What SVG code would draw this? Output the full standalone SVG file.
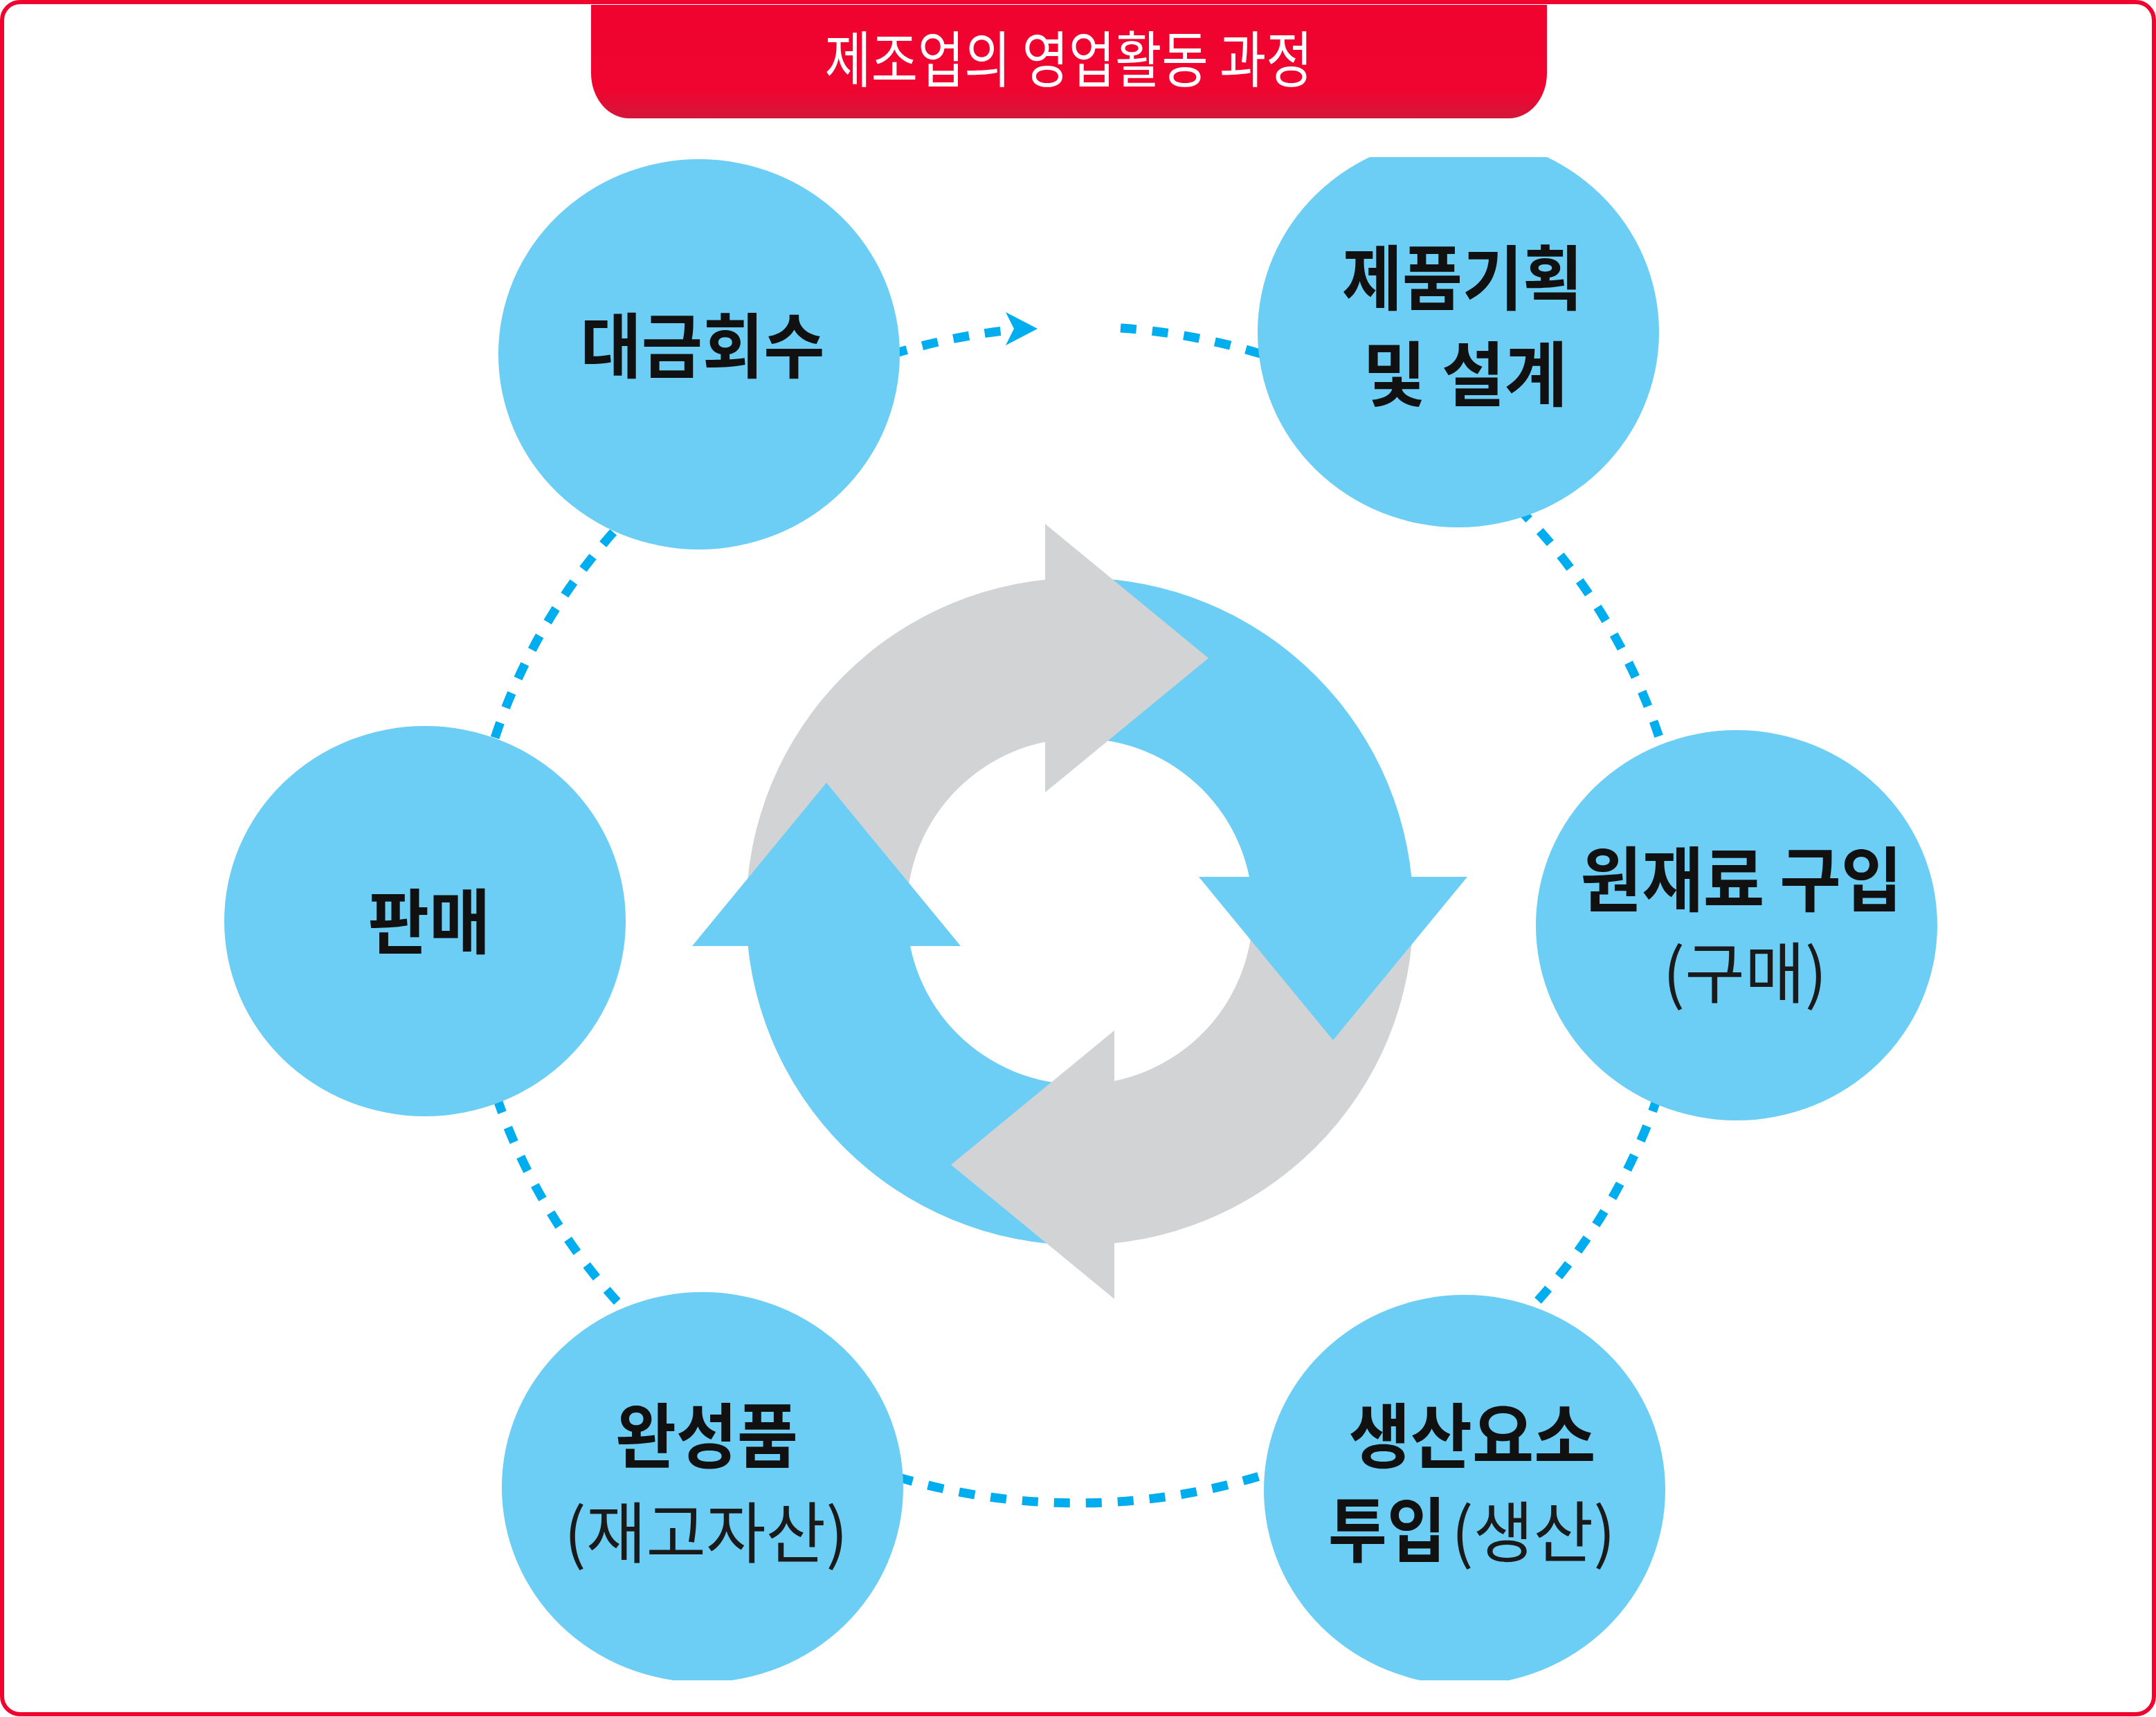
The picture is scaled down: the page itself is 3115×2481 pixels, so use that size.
<svg xmlns="http://www.w3.org/2000/svg" width="3115" height="2481" viewBox="0 0 3115 2481">
  <style>
    .node { fill: #6DCEF5; }
    .lbl { font-family: "Noto Sans CJK KR", "Noto Sans", sans-serif; font-weight: 700; font-size: 102px; fill: #111111; text-anchor: middle; }
    .sub { font-family: "Noto Sans CJK KR", "Noto Sans", sans-serif; font-weight: 400; font-size: 96px; fill: #1a1a1a; text-anchor: middle; }
    .title { font-family: "Noto Sans CJK KR", "Noto Sans", sans-serif; font-weight: 400; font-size: 88px; fill: #ffffff; text-anchor: middle; }
    .dash { fill: none; stroke: #00AEEF; stroke-width: 13; stroke-dasharray: 23 23; }
    .gray { fill: #D1D3D5; }
    .blue { fill: #6DCEF5; }
  </style>
  <defs>
    <linearGradient id="barGrad" x1="0" y1="0" x2="0" y2="1">
      <stop offset="0" stop-color="#F0042F"/>
      <stop offset="0.75" stop-color="#EF0530"/>
      <stop offset="1" stop-color="#D3163A"/>
    </linearGradient>
    <clipPath id="clipTop"><rect x="0" y="227" width="3115" height="2254"/></clipPath>
    <clipPath id="clipBottom"><rect x="0" y="0" width="3115" height="2428"/></clipPath>
  </defs>

  <rect x="0" y="0" width="3115" height="2481" fill="#ffffff"/>
  <rect x="3" y="3" width="3109" height="2474" rx="26" ry="26" fill="none" stroke="#F0042F" stroke-width="6"/>

  <g id="title">
    <path d="M854 7 H2235 V106 A55 65 0 0 1 2180 171 H909 A55 65 0 0 1 854 106 Z" fill="url(#barGrad)"/>
    <text class="title" x="1544" y="118" textLength="705" lengthAdjust="spacingAndGlyphs">제조업의 영업활동 과정</text>
  </g>

  <g id="connectors">
    <path class="dash" d="M1619 474 A882 850 0 1 1 1463 476.6"/>
    <polygon points="1499,475 1453,451 1465,475 1453,499" fill="#00AEEF"/>
  </g>

  <g id="cycle" transform="translate(1560 1317)">
    <path class="gray" d="M-482 0 A482 482 0 0 1 0 -482 L0 -250 A250 250 0 0 0 -250 0 Z"/>
    <path class="blue" transform="rotate(90)" d="M-482 0 A482 482 0 0 1 0 -482 L0 -250 A250 250 0 0 0 -250 0 Z"/>
    <path class="gray" transform="rotate(180)" d="M-482 0 A482 482 0 0 1 0 -482 L0 -250 A250 250 0 0 0 -250 0 Z"/>
    <path class="blue" transform="rotate(270)" d="M-482 0 A482 482 0 0 1 0 -482 L0 -250 A250 250 0 0 0 -250 0 Z"/>
    <path class="gray" d="M-50 -560 L186 -366 L-50 -172 Z"/>
    <path class="blue" transform="rotate(90)" d="M-50 -560 L186 -366 L-50 -172 Z"/>
    <path class="gray" transform="rotate(180)" d="M-50 -560 L186 -366 L-50 -172 Z"/>
    <path class="blue" transform="rotate(270)" d="M-50 -560 L186 -366 L-50 -172 Z"/>
  </g>

  <g id="node-payment">
    <ellipse class="node" cx="1010" cy="512" rx="290" ry="282"/>
    <text class="lbl" x="1015" y="538" textLength="353" lengthAdjust="spacingAndGlyphs">대금회수</text>
  </g>

  <g id="node-planning">
    <ellipse class="node" cx="2107" cy="480" rx="290" ry="282" clip-path="url(#clipTop)"/>
    <text class="lbl" x="2113" y="440" textLength="348" lengthAdjust="spacingAndGlyphs">제품기획</text>
    <text class="lbl" x="2117" y="579" textLength="296" lengthAdjust="spacingAndGlyphs">및 설계</text>
  </g>

  <g id="node-purchase">
    <ellipse class="node" cx="2509" cy="1337" rx="290" ry="282"/>
    <text class="lbl" x="2516" y="1309" textLength="465" lengthAdjust="spacingAndGlyphs">원재료 구입</text>
    <text class="sub" x="2521" y="1441" textLength="237" lengthAdjust="spacingAndGlyphs">(구매)</text>
  </g>

  <g id="node-sales">
    <ellipse class="node" cx="614" cy="1331" rx="290" ry="282"/>
    <text class="lbl" x="620" y="1370" textLength="177" lengthAdjust="spacingAndGlyphs">판매</text>
  </g>

  <g id="node-finished">
    <ellipse class="node" cx="1015" cy="2149" rx="290" ry="282" clip-path="url(#clipBottom)"/>
    <text class="lbl" x="1021" y="2113" textLength="264" lengthAdjust="spacingAndGlyphs">완성품</text>
    <text class="sub" x="1020" y="2250" textLength="410" lengthAdjust="spacingAndGlyphs">(재고자산)</text>
  </g>

  <g id="node-production">
    <ellipse class="node" cx="2116" cy="2153" rx="290" ry="282" clip-path="url(#clipBottom)"/>
    <text class="lbl" x="2127" y="2113" textLength="357" lengthAdjust="spacingAndGlyphs">생산요소</text>
    <text class="lbl" x="1919" y="2249" textLength="170" lengthAdjust="spacingAndGlyphs" style="text-anchor:start">투입</text>
    <text class="sub" x="2097" y="2249" textLength="237" lengthAdjust="spacingAndGlyphs" style="text-anchor:start">(생산)</text>
  </g>
</svg>
